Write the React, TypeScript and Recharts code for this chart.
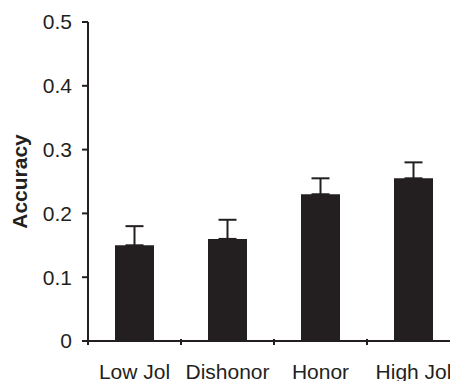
import React from "react";
import { BarChart, Bar, XAxis, YAxis, ErrorBar } from "recharts";

const categories = ["Low Jol", "Dishonor", "Honor", "High Jol"];
const accuracy = [0.15, 0.16, 0.23, 0.255];
const errorUp = [0.03, 0.03, 0.025, 0.025];
const yTicks = [0, 0.1, 0.2, 0.3, 0.4, 0.5];

const data = categories.map((c, i) => ({
  name: c,
  value: accuracy[i],
  err: [0, errorUp[i]],
}));

const INK = "#231f20";
const FONT = "'Liberation Sans', Arial, sans-serif";

const XTick = (props: any) => {
  const { x, y, payload } = props;
  const half = payload && payload.offset ? payload.offset : 0;
  const axisY = y - 8;
  return (
    <g>
      <line x1={x - half} y1={axisY - 2} x2={x - half} y2={axisY + 4} stroke={INK} strokeWidth={2} />
      <text x={x} y={axisY + 38} textAnchor="middle" fill={INK} fontSize={21} fontFamily={FONT}>
        {payload.value}
      </text>
    </g>
  );
};

export default function App() {
  return (
    <div style={{ position: "absolute", left: 8, top: 8, width: 442, height: 373, overflow: "hidden" }}>
      <BarChart
        width={460}
        height={373}
        data={data}
        margin={{ top: 14, right: 8, bottom: 0, left: 0 }}
        barSize={39}
      >
        <XAxis
          dataKey="name"
          height={40}
          tickLine={false}
          axisLine={{ stroke: INK, strokeWidth: 2 }}
          tick={<XTick />}
          interval={0}
        />
        <YAxis
          width={80}
          domain={[0, 0.5]}
          ticks={yTicks}
          tickSize={6}
          tickMargin={10}
          tickLine={{ stroke: INK, strokeWidth: 2 }}
          axisLine={{ stroke: INK, strokeWidth: 2 }}
          tick={{ fill: INK, fontSize: 21, fontFamily: FONT }}
          label={{
            value: "Accuracy",
            angle: -90,
            position: "insideLeft",
            offset: 12,
            style: { fill: INK, fontSize: 21, fontWeight: "bold", fontFamily: FONT, textAnchor: "middle" },
          }}
        />
        <Bar dataKey="value" fill={INK} isAnimationActive={false}>
          <ErrorBar dataKey="err" direction="y" width={9} stroke={INK} strokeWidth={2} />
        </Bar>
      </BarChart>
    </div>
  );
}
